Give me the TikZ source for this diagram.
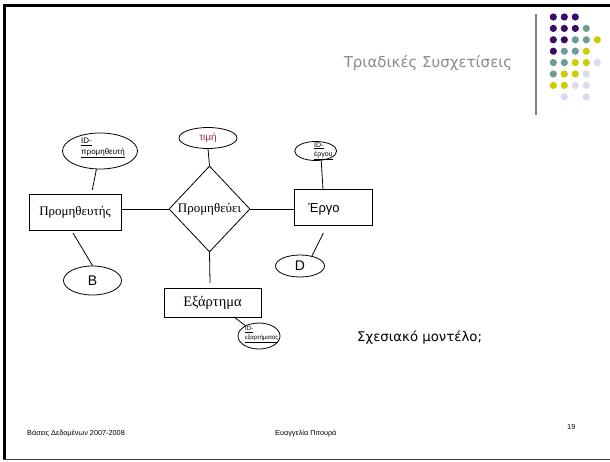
\documentclass[tikz,border=0pt]{standalone}
\usepackage{fontspec}
\setmainfont{Liberation Serif}
\newfontfamily\arialf{Liberation Sans}
\newfontfamily\comicf{DejaVu Sans}
\usetikzlibrary{shapes.geometric}
\definecolor{dpurple}{HTML}{3C0A6C}
\definecolor{dteal}{HTML}{6A9C9C}
\definecolor{dyellow}{HTML}{CCCC00}
\definecolor{dlav}{HTML}{DADAEE}
\definecolor{attrred}{HTML}{993333}
\definecolor{titlegray}{HTML}{8A8A8A}
\tikzset{
  entity/.style={draw, rectangle, inner sep=0pt, line width=0.8pt},
  attr/.style={draw, ellipse, inner sep=0pt, line width=0.8pt},
  conn/.style={line width=0.8pt},
  idtext/.style={font=\arialf, align=left, inner sep=0pt, anchor=north west},
  dot/.style={circle, inner sep=0pt, minimum size=7.2pt}
}
\begin{document}
\begin{tikzpicture}[x=1pt,y=-1pt]
\useasboundingbox (0,0) rectangle (610,461);
\fill[white] (0,0) rectangle (610,461);
% frame
\draw[line width=2.6pt] (4.3,459) -- (4.3,5.3) -- (610,5.3);
\draw[line width=1.4pt, black!75] (3,459.3) -- (610,459.3);
% title
\node[font=\comicf\fontsize{15}{17}\selectfont, text=titlegray, inner sep=0pt] (title) at (428,63) {Τριαδικές Συσχετίσεις};
\draw[line width=1.2pt, gray] (536,14) -- (536,115);
% dots
\foreach \r/\row in {0/{P,P,P,N,N},1/{P,P,P,T,N},2/{P,P,T,T,Y},3/{P,T,T,Y,N},4/{T,T,Y,Y,L},5/{T,Y,Y,L,N},6/{Y,Y,L,L,N},7/{N,L,N,L,N}}{
  \foreach \cc [count=\c from 0] in \row {
    \if\cc P\fill[dpurple] (553.3+11*\c,17+11.4*\r) circle (3.6);\fi
    \if\cc T\fill[dteal] (553.3+11*\c,17+11.4*\r) circle (3.6);\fi
    \if\cc Y\fill[dyellow] (553.3+11*\c,17+11.4*\r) circle (3.6);\fi
    \if\cc L\fill[dlav] (553.3+11*\c,17+11.4*\r) circle (3.6);\fi
  }
}
% diagram
\node[entity, minimum width=92pt, minimum height=36pt, font=\fontsize{13}{15}\selectfont] (p) at (75,212) {Προμηθευτής};
\node[entity, minimum width=78pt, minimum height=36pt] (e) at (333,207) {};
\node[font=\arialf\fontsize{13}{15}\selectfont, inner sep=0pt] (el) at (324,209) {Έργο};
\node[entity, minimum width=97pt, minimum height=29pt, font=\fontsize{14.5}{16}\selectfont] (x) at (212.5,302.5) {Εξάρτημα};
\node[draw, diamond, minimum width=81pt, minimum height=86pt, inner sep=0pt, line width=0.8pt] (d) at (209.5,209) {};
\node[font=\fontsize{13}{15}\selectfont, inner sep=0pt] (dl) at (d) {Προμηθεύει};
% attributes
\node[attr, minimum width=58pt, minimum height=21pt, font=\arialf\fontsize{10}{12}\selectfont, text=attrred] (t) at (208,138) {τιμή};
\node[attr, minimum width=75pt, minimum height=36pt] (ip) at (100,151) {};
\node[idtext, font=\arialf\fontsize{8}{10.5}\selectfont] (ipl) at (81,138) {\underline{ID-}\\\underline{προμηθευτή}};
\node[attr, minimum width=58pt, minimum height=29pt, font=\arialf\fontsize{14}{16}\selectfont] (b) at (92.5,280.5) {B};
\node[attr, minimum width=42pt, minimum height=19pt] (ie) at (315.7,151) {};
\node[idtext, font=\arialf\fontsize{7}{9}\selectfont] (iel) at (314,142) {\underline{ID-}\\\underline{έργου}};
\node[attr, minimum width=49pt, minimum height=22pt, font=\arialf\fontsize{14}{16}\selectfont] (dd) at (300,266) {D};
\node[attr, minimum width=42pt, minimum height=26pt] (ix) at (259,336) {};
\node[idtext, font=\arialf\fontsize{6}{9.5}\selectfont] (ixl) at (245,326) {\underline{ID-}\\\underline{εξαρτήματος}};
% free ends
\coordinate (c1) at (92.3,190);
\coordinate (c2) at (73,233);
\coordinate (c3) at (323,189);
\coordinate (c4) at (323.3,233);
\coordinate (c5) at (234,317);
\coordinate (c6) at (210,283);
% connectors
\draw[conn] (d.west) -- (d.west -| p.east);
\draw[conn] (d.east) -- (d.east -| e.west);
\draw[conn] (t.south) -- (d.north);
\draw[conn] (d.south) -- (c6);
\draw[conn] (ip) -- (c1);
\draw[conn] (c2) -- (b.north);
\draw[conn] (ie.-60) -- (c3);
\draw[conn] (dd.40) -- (c4);
\draw[conn] (c5) -- (ix);
% side text
\node[font=\comicf\fontsize{13.3}{15}\selectfont, anchor=west, inner sep=0pt] (rm) at (357,338) {Σχεσιακό μοντέλο;};
% footer
\node[font=\arialf\fontsize{7.3}{9}\selectfont, anchor=west, inner sep=0pt] (f1) at (27,433) {Βάσεις Δεδομένων 2007-2008};
\node[font=\arialf\fontsize{7.3}{9}\selectfont, anchor=west, inner sep=0pt] (f2) at (275,433) {Ευαγγελία Πιτουρά};
\node[font=\arialf\fontsize{7.3}{9}\selectfont, anchor=west, inner sep=0pt] (f3) at (567,427) {19};
\end{tikzpicture}
\end{document}
